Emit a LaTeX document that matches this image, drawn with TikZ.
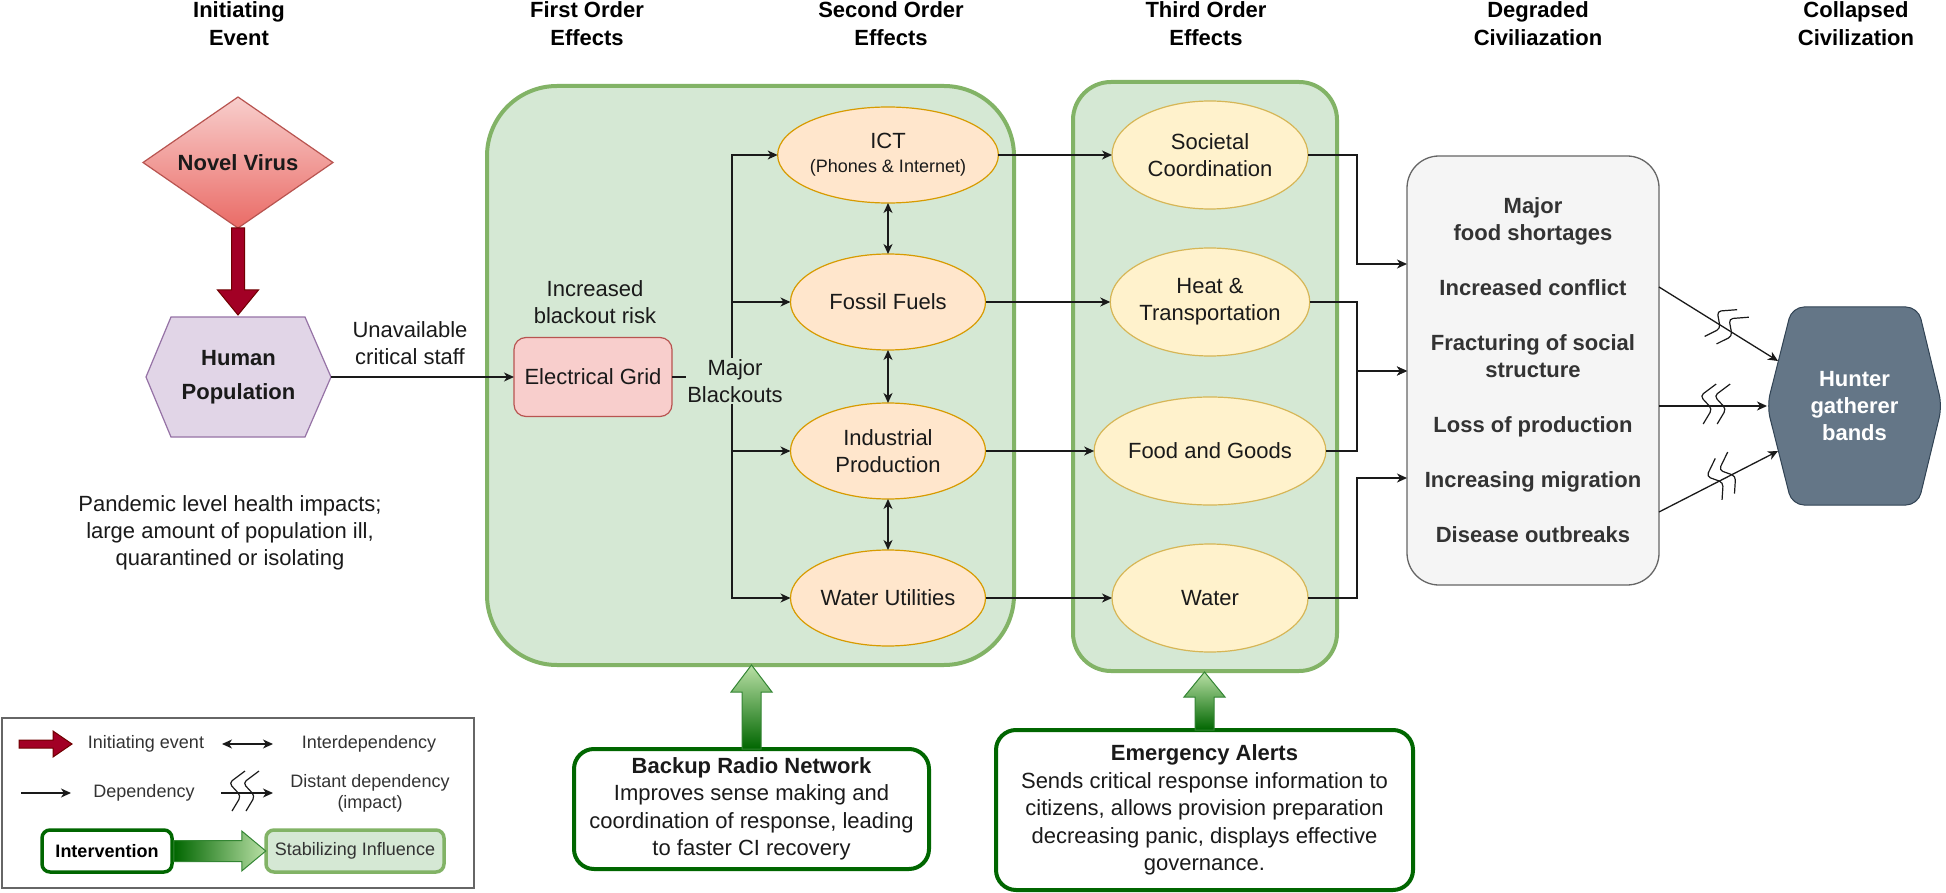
\documentclass[tikz,border=0pt]{standalone}
\usepackage{fontspec}
\setmainfont{Liberation Sans}
\usetikzlibrary{shapes.geometric,arrows.meta,calc}

\definecolor{gfill}{HTML}{D5E8D4}
\definecolor{gline}{HTML}{82B366}
\definecolor{ofill}{HTML}{FFE6CC}
\definecolor{oline}{HTML}{D79B00}
\definecolor{yfill}{HTML}{FFF2CC}
\definecolor{yline}{HTML}{D6B656}
\definecolor{rfill}{HTML}{F8CECC}
\definecolor{rline}{HTML}{B85450}
\definecolor{rdark}{HTML}{EA6B66}
\definecolor{pfill}{HTML}{E1D5E7}
\definecolor{pline}{HTML}{9673A6}
\definecolor{hfill}{HTML}{647687}
\definecolor{hline}{HTML}{314354}
\definecolor{dfill}{HTML}{F5F5F5}
\definecolor{dline}{HTML}{666666}
\definecolor{dgreen}{HTML}{006600}
\definecolor{lgreen}{HTML}{B9E0A5}
\definecolor{ired}{HTML}{A20025}
\definecolor{iredline}{HTML}{6F0000}
\definecolor{txt}{HTML}{1A1A1A}
\definecolor{gtxt}{HTML}{333333}

\tikzset{
  txtbase/.style={font=\fontsize{22}{27}\selectfont, text=txt, align=center, inner sep=0pt, outer sep=0pt},
  hdr/.style={font=\bfseries\fontsize{22}{28}\selectfont, text=black, align=center, inner sep=0pt},
  ellone/.style={ellipse, draw=oline, fill=ofill, line width=1.2pt, minimum width=195pt, minimum height=96pt, txtbase},
  ellthree/.style={ellipse, draw=yline, fill=yfill, line width=1.2pt, minimum width=196pt, minimum height=108pt, txtbase},
  depline/.style={draw=txt, line width=1.3pt, -{Stealth[length=10pt,width=9pt,inset=3pt]}},
  idepline/.style={draw=txt, line width=1.3pt, {Stealth[length=10pt,width=9pt,inset=3pt]}-{Stealth[length=10pt,width=9pt,inset=3pt]}},
  grpbox/.style={draw=gline, fill=gfill, line width=4pt, inner sep=0pt, outer sep=0pt},
  intervbox/.style={draw=dgreen, fill=white, line width=4pt, rounded corners=20pt, txtbase, font=\fontsize{22}{27.5}\selectfont},
  lgdtext/.style={font=\fontsize{18}{21}\selectfont, text=gtxt, align=center, inner sep=0pt},
  brkline/.style={draw=txt, line width=1.2pt, rounded corners=4pt},
  brk/.pic={
    \draw[brkline] (1,-22) -- (-15,-10) -- (-3,3) -- (-12,18);
    \draw[brkline] (15,-22) -- (-1,-10) -- (11,3) -- (2,18);
  },
  gradarrow/.style={top color=lgreen, bottom color=dgreen, draw=dgreen!80, line width=1pt},
}

\begin{document}
\begin{tikzpicture}[x=1pt,y=-1pt]
\useasboundingbox (0,0) rectangle (1946,893);
\fill[white] (0,0) rectangle (1946,893);

% headers
\node[hdr] (h1) at (239,24) {Initiating\\Event};
\node[hdr] (h2) at (587,24) {First Order\\Effects};
\node[hdr] (h3) at (891,24) {Second Order\\Effects};
\node[hdr] (h4) at (1206,24) {Third Order\\Effects};
\node[hdr] (h5) at (1538,24) {Degraded\\Civiliazation};
\node[hdr] (h6) at (1856,24) {Collapsed\\Civilization};

% group boxes
\node[grpbox, rounded corners=70pt, minimum width=527pt, minimum height=579pt] (g1) at (750.5,375.5) {};
\node[grpbox, rounded corners=38pt, minimum width=264pt, minimum height=589pt] (g3) at (1205,376.5) {};

% novel virus
\shadedraw[top color=rfill, bottom color=rdark, draw=rline, line width=1.2pt]
  (143,162.5) -- (238,97) -- (333,162.5) -- (238,228) -- cycle;
\node[txtbase, font=\bfseries\fontsize{22}{27}\selectfont, minimum width=190pt, minimum height=131pt] (nv) at (238,162.5) {Novel Virus};

% human population
\draw[draw=pline, fill=pfill, line width=1.2pt]
  (146,377) -- (171,317) -- (305,317) -- (331,377) -- (305,437) -- (171,437) -- cycle;
\node[txtbase, font=\bfseries\fontsize{22}{34}\selectfont, minimum width=185pt, minimum height=120pt] (hp) at (238.5,377) {Human\\Population};

% initiating arrow
\filldraw[fill=ired, draw=iredline, line width=1pt]
  (nv.south) ++(-6.5,0) -- ++(0,62) -- ++(-14,0) -- ++(20.5,25) -- ++(20.5,-25) -- ++(-14,0) -- ++(0,-62) -- cycle;

\node[txtbase] (pand) at (230,533) {Pandemic level health impacts;\\large amount of population ill,\\quarantined or isolating};

% electrical grid
\node[txtbase, draw=rline, fill=rfill, line width=1.2pt, rounded corners=12pt, minimum width=158pt, minimum height=79pt] (eg) at (593,377) {Electrical Grid};
\node[txtbase] (ebr) at (595,302) {Increased\\blackout risk};

\draw[depline] (hp.east) -- (eg.west);
\node[txtbase, fill=white] (ucs) at (410,343) {Unavailable\\critical staff};

% second order
\node[ellone] (ict) at (888,155) {ICT\\[-3pt]{\fontsize{18}{20}\selectfont(Phones \& Internet)}};
\node[ellone] (ff) at (888,302) {Fossil Fuels};
\node[ellone] (ip) at (888,451) {Industrial\\Production};
\node[ellone] (wu) at (888,598) {Water Utilities};

\draw[depline] (eg.east) -| (732,155) -- (ict.west);
\draw[depline] (eg.east) -| (732,302) -- (ff.west);
\draw[depline] (eg.east) -| (732,451) -- (ip.west);
\draw[depline] (eg.east) -| (732,598) -- (wu.west);
\node[txtbase, fill=gfill, inner sep=1pt] (mb) at (735,381) {Major\\Blackouts};

\draw[idepline] (ict.south) -- (ff.north);
\draw[idepline] (ff.south) -- (ip.north);
\draw[idepline] (ip.south) -- (wu.north);

% third order
\node[ellthree] (sc) at (1210,155) {Societal\\Coordination};
\node[ellthree] (ht) at (1210,302) {Heat \&\\Transportation};
\node[ellthree] (fg) at (1210,451) {Food and Goods};
\node[ellthree] (wt) at (1210,598) {Water};

\draw[depline] (ict.east) -- (sc.west);
\draw[depline] (ff.east) -- (ht.west);
\draw[depline] (ip.east) -- (fg.west);
\draw[depline] (wu.east) -- (wt.west);

% degraded civilization
\node[txtbase, font=\bfseries\fontsize{22}{27}\selectfont, text=gtxt, draw=dline, fill=dfill, line width=1.3pt, rounded corners=32pt, minimum width=252pt, minimum height=429pt] (deg) at (1533,370.5)
 {Major\\food shortages\\[28pt]Increased conflict\\[28pt]Fracturing of social\\structure\\[28pt]Loss of production\\[28pt]Increasing migration\\[28pt]Disease outbreaks};

\draw[depline] (sc.east) -| (1357,264) -- (deg.west |- 0,264);
\draw[depline] (ht.east) -| (1357,371) -- (deg.west |- 0,371);
\draw[depline] (fg.east) -| (1357,371) -- (deg.west |- 0,371);
\draw[depline] (wt.east) -| (1357,478) -- (deg.west |- 0,478);

% hunter gatherer
\draw[draw=hline, fill=hfill, line width=1pt, rounded corners=12pt]
  (1767,406) -- (1792,307) -- (1918,307) -- (1942,406) -- (1918,505) -- (1792,505) -- cycle;
\node[txtbase, font=\bfseries\fontsize{22}{27}\selectfont, text=white, minimum width=175pt, minimum height=198pt] (hg) at (1854.5,406) {Hunter\\gatherer\\bands};

\coordinate (hgA) at (1778,361);
\coordinate (hgC) at (1778,451);
\coordinate (d1) at (deg.east |- 0,287);
\coordinate (d2) at (deg.east |- 0,406);
\coordinate (d3) at (deg.east |- 0,512);
\draw[depline] (d1) -- (hgA);
\draw[depline] (d2) -- (hg.west);
\draw[depline] (d3) -- (hgC);
\path ($(d1)!0.55!(hgA)$) pic[rotate=-32.5] {brk};
\path ($(d2)!0.52!(hg.west)$) pic {brk};
\path ($(d3)!0.55!(hgC)$) pic[rotate=27.3] {brk};

% interventions
\node[intervbox, minimum width=355pt, minimum height=120pt] (br) at (751.5,809)
 {\textbf{Backup Radio Network}\\Improves sense making and\\coordination of response, leading\\to faster CI recovery};
\node[intervbox, minimum width=417pt, minimum height=160pt] (ea) at (1204.5,810)
 {\textbf{Emergency Alerts}\\Sends critical response information to\\citizens, allows provision preparation\\decreasing panic, displays effective\\governance.};

\shadedraw[gradarrow] (br.north) ++(-9.5,0) -- ++(0,-57) -- ++(-11,0) -- ++(20.5,-27) -- ++(20.5,27) -- ++(-11,0) -- ++(0,57) -- cycle;
\shadedraw[gradarrow] (ea.north) ++(-9.5,0) -- ++(0,-33) -- ++(-11,0) -- ++(20.5,-25) -- ++(20.5,25) -- ++(-11,0) -- ++(0,33) -- cycle;

% legend
\node[draw=dline, line width=1.3pt, minimum width=472pt, minimum height=170pt, inner sep=0pt] (lgbox) at (238,803) {};
\filldraw[fill=ired, draw=iredline, line width=1pt]
  (19,740) -- (53,740) -- (53,731) -- (72,744) -- (53,757) -- (53,748) -- (19,748) -- cycle;
\node[lgdtext] (lt1) at (146,744) {Initiating event};
\coordinate (la1) at (222,744);
\coordinate (la2) at (273,744);
\draw[idepline] (la1) -- (la2);
\node[lgdtext] (lt2) at (369,744) {Interdependency};
\coordinate (lb1) at (21,793);
\coordinate (lb2) at (71,793);
\draw[depline] (lb1) -- (lb2);
\node[lgdtext] (lt3) at (144,793) {Dependency};
\coordinate (lc1) at (221,793);
\coordinate (lc2) at (273,793);
\draw[depline] (lc1) -- (lc2);
\path (244,793) pic {brk};
\node[lgdtext] (lt4) at (370,793) {Distant dependency\\(impact)};

\node[lgdtext, text=black, font=\bfseries\fontsize{18}{21}\selectfont, draw=dgreen, fill=white, line width=3.5pt, rounded corners=8pt, minimum width=130pt, minimum height=42pt] (li) at (107,851) {Intervention};
\node[lgdtext, draw=gline, fill=gfill, line width=3.5pt, rounded corners=8pt, minimum width=178pt, minimum height=42pt] (ls) at (355,851) {Stabilizing Influence};
\shadedraw[left color=dgreen, right color=lgreen, draw=dgreen!80, line width=1pt]
  (li.east) ++(0,-10.5) -- ++(68,0) -- ++(0,-9.5) -- ++(24,20) -- ++(-24,20) -- ++(0,-9.5) -- ++(-68,0) -- cycle;
\end{tikzpicture}
\end{document}
